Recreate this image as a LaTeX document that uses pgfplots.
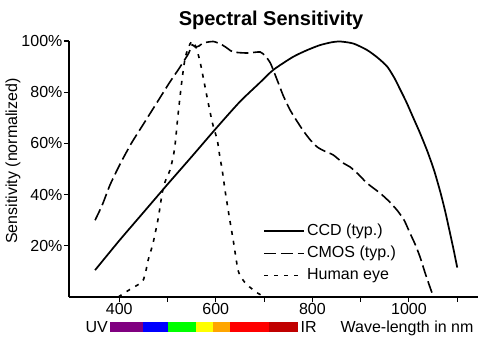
\documentclass[border=0pt]{standalone}
\usepackage{pgfplots}
\pgfplotsset{compat=1.18}
\usepackage{fontspec}
\setmainfont{Liberation Sans}
\definecolor{cUV}{RGB}{128,0,128}
\definecolor{cB}{RGB}{0,0,255}
\definecolor{cG}{RGB}{0,255,0}
\definecolor{cY}{RGB}{255,255,0}
\definecolor{cO}{RGB}{255,165,0}
\definecolor{cR}{RGB}{255,0,0}
\definecolor{cDR}{RGB}{192,0,0}
\begin{document}
\begin{tikzpicture}[font=\fontsize{12}{14}\selectfont]
\begin{axis}[
  scale only axis, width=306.75pt, height=192pt,
  xmin=296, xmax=1143, ymin=0, ymax=100,
  axis x line=bottom, axis y line=left,
  axis line style={-, line width=1pt},
  tick align=outside, major tick length=3.75pt,
  tick style={line width=0.8pt, black},
  xtick={400,500,...,1100}, xticklabels={400,,600,,800,,1000,},
  ytick={20,40,60,80,100}, yticklabels={20\%,40\%,60\%,80\%,100\%},
  ticklabel style={font=\fontsize{12}{14}\selectfont, inner sep=1pt},
  /pgf/number format/assume math mode=true,
  clip=false,
  title={Spectral Sensitivity},
  every axis title/.style={at={(axis description cs:0.494,1.0586)}, anchor=base, font=\bfseries\fontsize{15}{18}\selectfont, inner sep=0pt},
  ylabel={Sensitivity (normalized)},
  ylabel style={at={(axis description cs:-0.137,0.531)}, anchor=center, font=\fontsize{12}{14}\selectfont, inner sep=0pt},
  legend style={draw=none, fill=none, at={(axis cs:698,28.9)}, anchor=north west, inner sep=0pt, row sep=4.6pt, column sep=1.5pt, nodes={inner sep=0pt, text height=9pt, text depth=3pt}, font=\fontsize{12}{14}\selectfont},
  legend cell align=left,
  legend image code/.code={\draw[#1] (0pt,0pt) -- (30pt,0pt);},
]
\coordinate (ll) at (rel axis cs:0,0);
\coordinate (ur) at (rel axis cs:1,1);
% CCD
\addplot[black, line width=1.3pt, smooth, tension=0.4] coordinates {
(350,10.5)(400,22)(450,33)(500,44)(550,54.8)(603,66.4)(650,76.3)(690,83.5)(719,88.7)(760,93.8)(790,96.5)(816,98.4)(840,99.5)(858,99.8)(885,99)(913,96.5)(935,93.5)(955,90)(970,85.5)(982,81)(995,76)(1009,70)(1023,64)(1038,57)(1052,49.5)(1065,41)(1075,33.5)(1085,25)(1093,18)(1100,11.5)
};
\addlegendentry{CCD (typ.)}
% CMOS
\addplot[black, line width=1.2pt, dash pattern=on 9pt off 3.5pt, smooth, tension=0.4] coordinates {
(350,30)(365,36)(381,43.8)(402,52)(425,60)(450,67.5)(485,78)(505,84)(522,88.7)(535,92.5)(544,95.3)(551,98.5)(557,97.7)(565,98)(574,99.2)(595,99.8)(613,98.5)(625,97)(636,95.7)(665,95.3)(692,95.7)(703,94)(713,91.4)(727,84.8)(740,78.5)(754,73)(767,69)(781,65)(795,61.5)(810,58.6)(825,57)(843,55.5)(864,52.3)(878,50.8)(895,48)(913,44.5)(940,40.6)(958,37.5)(975,34)(990,30)(1002,25)(1013,20.5)(1023,15.6)(1035,8.5)(1048,1.5)(1052,0)
};
\addlegendentry{CMOS (typ.)}
% Human eye
\addplot[black, line width=1.2pt, dash pattern=on 3pt off 4.5pt, smooth, tension=0.4] coordinates {
(398,0)(410,1.5)(427,3.5)(448,6)(455,10)(460,14.5)(470,21)(481,31)(489,40.6)(495,45)(505,49.5)(512,55)(516,60)(522,71.5)(530,84.8)(537,93.8)(547,99)(553,99.8)(560,97)(568,91.4)(582,78)(593,68)(603,61.3)(609,54)(613,50)(620,40.6)(630,28.9)(636,22.3)(646,10.5)(655,7)(665,4.7)(686,1.6)(702,0)
};
\addlegendentry{Human eye}
% spectrum bar
\addplot[fill=cUV, draw=none, forget plot] coordinates {(380,-9.8)(450,-9.8)(450,-13.7)(380,-13.7)};
\addplot[fill=cB, draw=none, forget plot] coordinates {(450,-9.8)(500,-9.8)(500,-13.7)(450,-13.7)};
\addplot[fill=cG, draw=none, forget plot] coordinates {(500,-9.8)(560,-9.8)(560,-13.7)(500,-13.7)};
\addplot[fill=cY, draw=none, forget plot] coordinates {(560,-9.8)(595,-9.8)(595,-13.7)(560,-13.7)};
\addplot[fill=cO, draw=none, forget plot] coordinates {(595,-9.8)(630,-9.8)(630,-13.7)(595,-13.7)};
\addplot[fill=cR, draw=none, forget plot] coordinates {(630,-9.8)(710,-9.8)(710,-13.7)(630,-13.7)};
\addplot[fill=cDR, draw=none, forget plot] coordinates {(710,-9.8)(770,-9.8)(770,-13.7)(710,-13.7)};
\node[anchor=base east, inner sep=0pt] at (axis cs:377,-14) {UV};
\node[anchor=base west, inner sep=0pt] at (axis cs:775,-14) {IR};
\node[anchor=base west, inner sep=0pt] at (axis cs:858,-14) {Wave-length in nm};
\end{axis}
\pgfresetboundingbox
\path ([shift={(-51.75pt,-30.75pt)}]ll) rectangle ([shift={(1.5pt,30.75pt)}]ur);
\end{tikzpicture}
\end{document}
